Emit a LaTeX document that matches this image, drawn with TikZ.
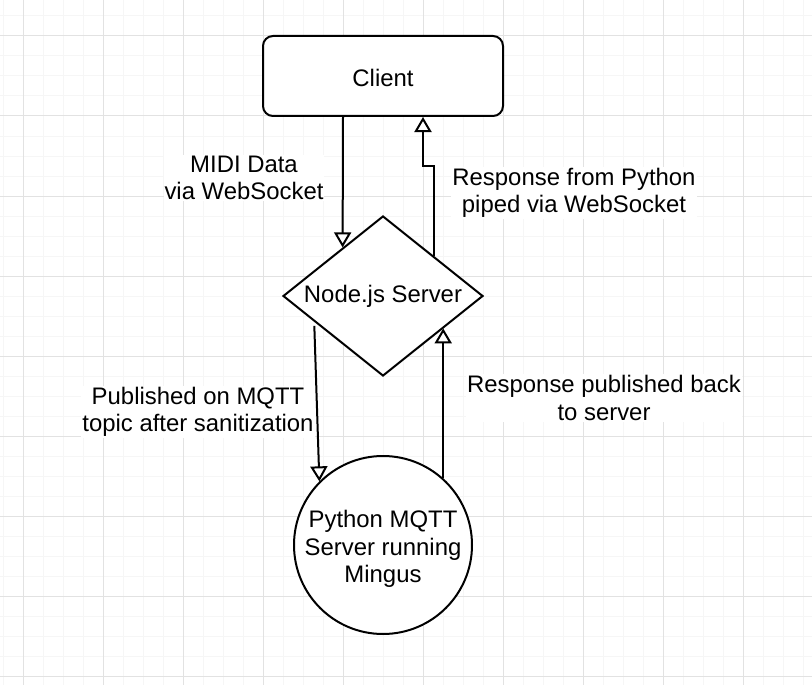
\documentclass[tikz,border=0pt]{standalone}
\usepackage{fontspec}
\setmainfont{Liberation Sans}
\usetikzlibrary{shapes.geometric,arrows.meta,calc}
\definecolor{gridminor}{HTML}{F6F6F6}
\definecolor{gridmajor}{HTML}{E2E2E2}
\tikzset{
  every node/.style={font=\fontsize{23.9}{27.6}\selectfont},
  shapeline/.style={draw=black,line width=2pt},
  arr/.style={draw=black,line width=2pt,-{Triangle[open,length=15pt,width=17pt,fill=white]}},
  lbl/.style={fill=white,align=center,inner sep=1pt}
}
\begin{document}
\begin{tikzpicture}[x=1pt,y=-1pt]
\useasboundingbox (0,0) rectangle (812,685);
\fill[white] (0,0) rectangle (812,685);
% grid
\foreach \x in {3,23,...,803} \draw[gridminor,line width=1pt] (\x,0) -- (\x,685);
\foreach \y in {16,36,...,676} \draw[gridminor,line width=1pt] (0,\y) -- (812,\y);
\foreach \x in {23,103,...,803} \draw[gridmajor,line width=1pt] (\x,0) -- (\x,685);
\foreach \y in {36,116,...,676} \draw[gridmajor,line width=1pt] (0,\y) -- (812,\y);
% nodes
\node[shapeline,fill=white,rounded corners=10pt,minimum width=240pt,minimum height=80pt,inner sep=0pt] (client) at (383,76) {};
\node (clienttext) at (383,78) {Client};
\node[shapeline,fill=white,diamond,aspect=1.25,minimum width=200pt,minimum height=160pt,inner sep=0pt] (dia) at (383,296) {Node.js Server};
\node[shapeline,fill=white,circle,minimum size=178pt,inner sep=0pt] (circ) at (383,545) {};
\node[align=center] (circtext) at (383,549) {Python MQTT\\Server running\\Mingus};
% connectors
\coordinate (a1) at ($(client.south)+(-40,0)$);
\coordinate (a2) at ($(dia.north)!0.4!(dia.west)$);
\draw[arr] (a1) -- (a2);
\coordinate (b1) at ($(dia.north)!0.5!(dia.east)$);
\coordinate (bj) at (423,166);
\coordinate (b2) at ($(client.south)+(40,0)$);
\draw[arr] (b1) |- (bj) -- (b2);
\coordinate (c1) at ($(dia.west)!0.32!(dia.south)+(0,4)$);
\draw[arr] (c1) -- (circ.135);
\coordinate (d2) at ($(dia.east)!0.4!(dia.south)$);
\draw[arr] (circ.48) -- (d2 -| circ.48);
% labels
\node[lbl] (l1) at (244,178) {MIDI Data\\via WebSocket};
\node[lbl] (l2) at (574,193) {Response from Python\\piped via WebSocket};
\node[lbl] (l3) at (198,412) {Published on MQTT\\topic after sanitization};
\node[lbl] (l4) at (604,398) {Response published back\\to server};
\end{tikzpicture}
\end{document}
